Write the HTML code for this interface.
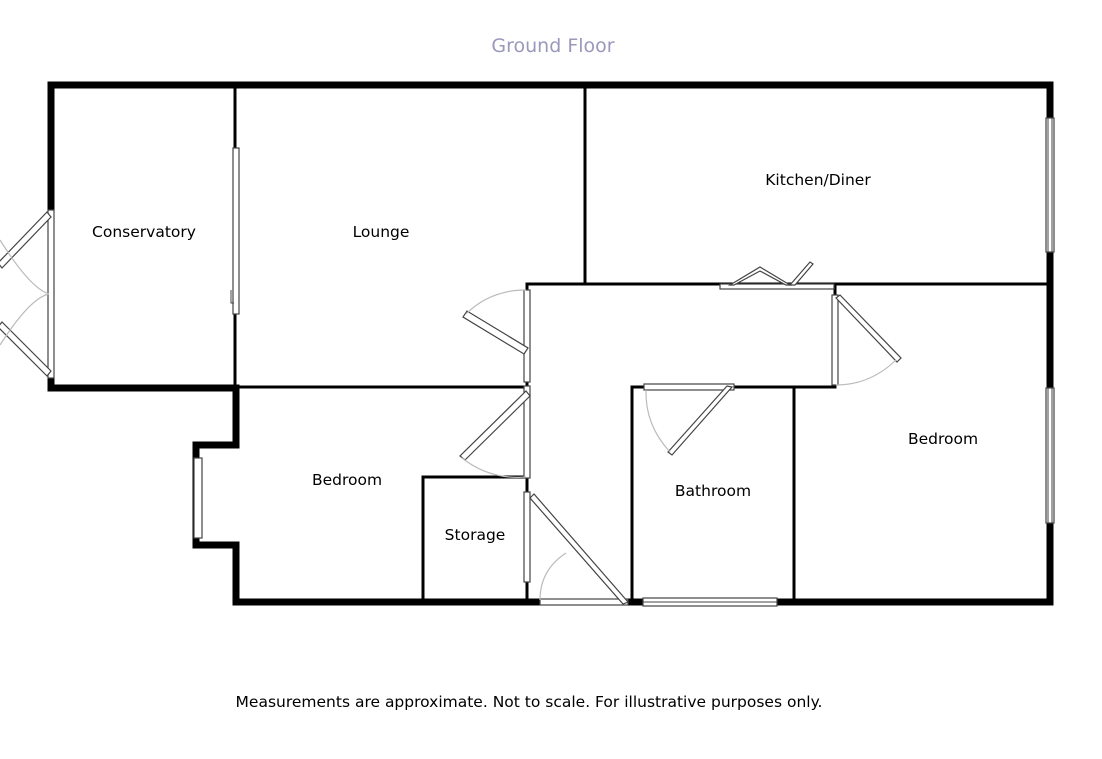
<!DOCTYPE html>
<html><head><meta charset="utf-8"><style>
html,body{margin:0;padding:0;background:#fff;}
svg{display:block;}
text{font-family:"DejaVu Sans","Liberation Sans",sans-serif;}
</style></head><body>
<svg width="1102" height="759" viewBox="0 0 1102 759" xmlns="http://www.w3.org/2000/svg">
<text x="553" y="52" font-size="19" fill="#9a98bb" text-anchor="middle">Ground Floor</text>
<g stroke="#000" fill="none" stroke-linecap="square">
<g stroke-width="7">
<line x1="51" y1="85" x2="1050" y2="85"/>
<line x1="1050" y1="85" x2="1050" y2="602"/>
<line x1="236" y1="602" x2="1050" y2="602"/>
<line x1="51" y1="85" x2="51" y2="388"/>
<line x1="51" y1="388" x2="236" y2="388"/>
<line x1="236" y1="388" x2="236" y2="445"/>
<line x1="196" y1="445" x2="236" y2="445"/>
<line x1="196" y1="445" x2="196" y2="545"/>
<line x1="196" y1="545" x2="236" y2="545"/>
<line x1="236" y1="545" x2="236" y2="602"/>
</g>
<g stroke-width="3">
<line x1="235" y1="88" x2="235" y2="387"/>
<line x1="236" y1="387" x2="527" y2="387"/>
<line x1="585" y1="88" x2="585" y2="284"/>
<line x1="527" y1="284" x2="1048" y2="284"/>
<line x1="527" y1="284" x2="527" y2="600"/>
<line x1="835" y1="284" x2="835" y2="387"/>
<line x1="632" y1="387" x2="835" y2="387"/>
<line x1="632" y1="387" x2="632" y2="600"/>
<line x1="794" y1="387" x2="794" y2="600"/>
<line x1="423" y1="477" x2="527" y2="477"/>
<line x1="423" y1="477" x2="423" y2="600"/>
</g>
</g>
<g fill="#fff" stroke="#444" stroke-width="1.2">
<rect x="1046" y="118" width="8" height="134"/>
<rect x="1046" y="388" width="8" height="135"/>
<rect x="194" y="458" width="8" height="80"/>
<rect x="643" y="598" width="134" height="8"/>
<rect x="540" y="599" width="88" height="6"/>
<rect x="48" y="210" width="6" height="168"/>
<rect x="233" y="148" width="6" height="166"/>
<rect x="720" y="284" width="114" height="5"/>
<rect x="524" y="290" width="6" height="92"/>
<rect x="524" y="386" width="6" height="92"/>
<rect x="524" y="492" width="6" height="90"/>
<rect x="832" y="295" width="6" height="90"/>
<rect x="644" y="384" width="90" height="6"/>
</g>
<g stroke="#444" fill="none" stroke-width="1">
<line x1="1048" y1="118" x2="1048" y2="252"/><line x1="1052" y1="118" x2="1052" y2="252"/>
<line x1="1048" y1="388" x2="1048" y2="523"/><line x1="1052" y1="388" x2="1052" y2="523"/>
<line x1="643" y1="602" x2="777" y2="602"/>
<path d="M231 290 v13 h3"/>
</g>
<g stroke="#444" fill="#fff" stroke-width="1.2">
<polygon points="47,212 51,217 2,268 -2,263"/>
<polygon points="47,376 51,371 2,322 -2,327"/>
<polygon points="524,354 528,348 467,311 463,317"/>
<polygon points="526,391 530,396 465,460 460,456"/>
<polygon points="530,498 534,494 628,602 623,604"/>
<polygon points="836,298 840,295 901,358 897,362"/>
<polygon points="732,387 727,386 668,452 672,455"/>
<polygon points="730,285 760,267 790,285 786,285 760,271 734,285"/>
<polygon points="790,285 810,262 813,264 795,285"/>
</g>
<g stroke="#bbb" fill="none" stroke-width="1.2">
<path d="M0 240 Q30 288 49 294"/>
<path d="M0 345 Q30 298 49 294"/>
<path d="M466 314 Q490 290 526 290"/>
<path d="M462 458 Q490 480 526 477"/>
<path d="M540 600 Q540 570 566 553"/>
<path d="M896 360 Q870 385 836 385"/>
<path d="M646 390 Q645 425 670 452"/>
</g>
<g font-size="15.5" fill="#000" text-anchor="middle">
<text x="144" y="237">Conservatory</text>
<text x="381" y="237">Lounge</text>
<text x="818" y="185">Kitchen/Diner</text>
<text x="943" y="444">Bedroom</text>
<text x="347" y="485">Bedroom</text>
<text x="713" y="496">Bathroom</text>
<text x="475" y="540">Storage</text>
<text x="529" y="707">Measurements are approximate. Not to scale. For illustrative purposes only.</text>
</g>
</svg>
</body></html>
